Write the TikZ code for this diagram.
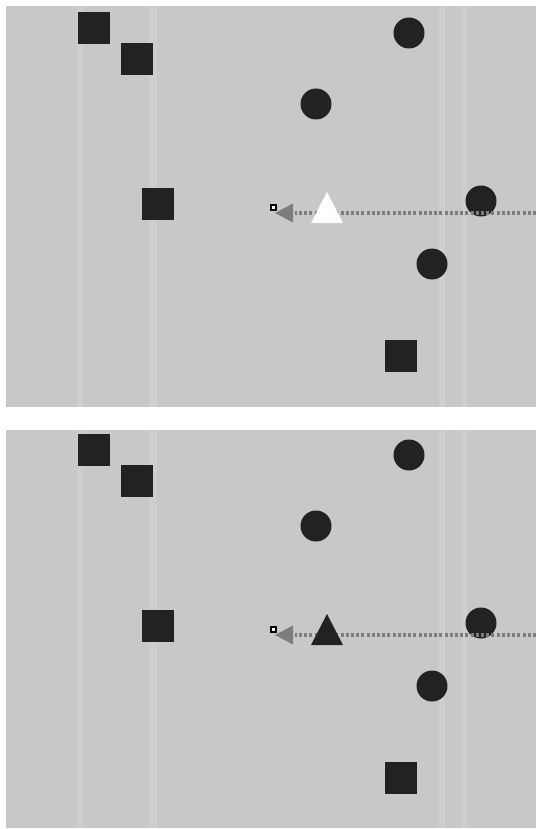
\documentclass[tikz,border=0pt]{standalone}
\usetikzlibrary{arrows.meta}
\definecolor{bggray}{RGB}{200,200,200}
\definecolor{shapedark}{RGB}{34,34,34}
\definecolor{dotgray}{RGB}{125,125,125}
\tikzset{
  panel/.style={fill=bggray, draw=none},
  streak/.style={fill=white, opacity=0.12, draw=none},
  sqshape/.style={rectangle, fill=shapedark, minimum size=32pt, inner sep=0pt},
  circshape/.style={circle, fill=shapedark, minimum size=31pt, inner sep=0pt},
  marker/.style={rectangle, draw=black, fill=white, line width=1.3pt, minimum size=5pt, inner sep=0pt},
  dotline/.style={draw=dotgray, line width=3.2pt, dash pattern=on 3pt off 2.2pt},
  headshape/.style={fill=dotgray, draw=none}
}
\begin{document}
\begin{tikzpicture}[x=1pt,y=-1pt]
\useasboundingbox (0,0) rectangle (536,829);
\fill[white] (0,0) rectangle (536,829);
\foreach \p/\off/\tc/\top/\bot in {t/0/white/6/407, b/422/shapedark/430/828}{
  \begin{scope}[yshift=-\off pt]
  \fill[panel] (6,\top-\off) rectangle (536,\bot-\off);
  \fill[streak] (77,\top-\off) rectangle (83,\bot-\off);
  \fill[streak] (149,\top-\off) rectangle (157,\bot-\off);
  \fill[streak] (439,\top-\off) rectangle (445,\bot-\off);
  \fill[streak] (462,\top-\off) rectangle (467,\bot-\off);
  \node[sqshape] (sqa\p) at (94,28) {};
  \node[sqshape] (sqb\p) at (137,59) {};
  \node[sqshape] (sqc\p) at (158,204) {};
  \node[sqshape] (sqd\p) at (401,356) {};
  \node[circshape] (cia\p) at (409,33) {};
  \node[circshape] (cib\p) at (316,104) {};
  \node[circshape] (cic\p) at (481,201) {};
  \node[circshape] (cid\p) at (432,264) {};
  \coordinate (end\p) at (536,213);
  \coordinate (head\p) at (293,213);
  \coordinate (tip\p) at (275,213);
  \draw[dotline] (end\p) -- ([xshift=2pt]head\p);
  \fill[headshape] (tip\p) -- ([yshift=-9.5pt]head\p) -- ([yshift=9.5pt]head\p) -- cycle;
  \coordinate (tri\p) at (327,208);
  \fill[\tc] ([yshift=16pt]tri\p) -- ([xshift=-16pt,yshift=-15pt]tri\p) -- ([xshift=16pt,yshift=-15pt]tri\p) -- cycle;
  \node[marker] (mk\p) at (273.5,207.5) {};
  \end{scope}
}
\end{tikzpicture}
\end{document}
